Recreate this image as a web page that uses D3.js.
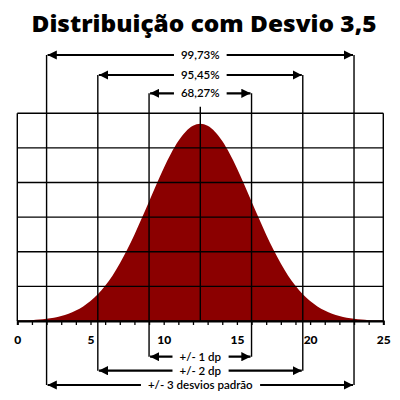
<!DOCTYPE html>
<html>
<head>
<meta charset="utf-8">
<script src="https://cdn.jsdelivr.net/npm/d3@7"></script>
<style>
  body { margin: 0; background: #fff; }
  svg { display: block; font-family: "Lato", "Open Sans", sans-serif; }
</style>
</head>
<body>
<svg width="400" height="400"></svg>
<script>
// x positions along the curve (read every half unit)
var curveX = [0, 0.5, 1, 1.5, 2, 2.5, 3, 3.5, 4, 4.5, 5, 5.5, 6, 6.5, 7, 7.5, 8, 8.5, 9, 9.5,
  10, 10.5, 11, 11.5, 12, 12.5, 13, 13.5, 14, 14.5, 15, 15.5, 16, 16.5, 17, 17.5, 18, 18.5,
  19, 19.5, 20, 20.5, 21, 21.5, 22, 22.5, 23, 23.5, 24, 24.5, 25];
// density height
var curveY = [0.0002, 0.0003, 0.0005, 0.0008, 0.0013, 0.0019, 0.0029, 0.0042, 0.0060, 0.0084,
  0.0115, 0.0154, 0.0203, 0.0262, 0.0332, 0.0411, 0.0499, 0.0593, 0.0691, 0.0789, 0.0883,
  0.0968, 0.1040, 0.1094, 0.1128, 0.1140, 0.1128, 0.1094, 0.1040, 0.0968, 0.0883, 0.0789,
  0.0691, 0.0593, 0.0499, 0.0411, 0.0332, 0.0262, 0.0203, 0.0154, 0.0115, 0.0084, 0.0060,
  0.0042, 0.0029, 0.0019, 0.0013, 0.0008, 0.0005, 0.0003, 0.0002];

var meanX = [12.5];
var spanLow = [9, 5.5, 2];
var spanHigh = [16, 19.5, 23];
var spanTopLabels = ["68,27%", "95,45%", "99,73%"];
var spanBottomLabels = ["+/- 1 dp", "+/- 2 dp", "+/- 3 desvios padrão"];
var xTicks = [0, 1, 2, 3, 4, 5, 6, 7, 8, 9, 10, 11, 12, 13, 14, 15, 16, 17, 18, 19, 20, 21, 22, 23, 24, 25];
var yGrid = [0, 0.02, 0.04, 0.06, 0.08, 0.1, 0.12];

var svg = d3.select("svg");

var x = d3.scaleLinear().domain([0, 25]).range([17.3, 383.3]);
var y = d3.scaleLinear().domain([0, 0.12]).range([321, 113.3]);

var topY = [93.3, 75, 55];
var botY = [356.7, 370.7, 385];

svg.append("defs").append("marker")
    .attr("id", "arr")
    .attr("viewBox", "0 0 10 10")
    .attr("refX", 10).attr("refY", 5)
    .attr("markerWidth", 4.2).attr("markerHeight", 4.2)
    .attr("orient", "auto-start-reverse")
    .append("path")
    .attr("d", "M0,0 L10,5 L0,10 z")
    .attr("fill", "#000");

// title
svg.append("text")
    .attr("x", 204).attr("y", 31.5)
    .attr("text-anchor", "middle")
    .attr("font-family", "'Open Sans', sans-serif")
    .attr("font-size", 23.5)
    .attr("font-weight", 800)
    .attr("textLength", 345)
    .attr("lengthAdjust", "spacingAndGlyphs")
    .text("Distribuição com Desvio 3,5");

// filled curve
var area = d3.area()
    .x(function (d, i) { return x(curveX[i]); })
    .y0(y(0))
    .y1(function (d) { return y(d); })
    .curve(d3.curveMonotoneX);

svg.append("path")
    .datum(curveY)
    .attr("d", area)
    .attr("fill", "#8b0000");

// horizontal grid
svg.append("g").selectAll("line")
    .data(yGrid)
    .enter().append("line")
    .attr("x1", x(0)).attr("x2", x(25))
    .attr("y1", function (d) { return y(d); })
    .attr("y2", function (d) { return y(d); })
    .attr("stroke", "#000").attr("stroke-width", 1.4);

// frame sides
svg.append("g").selectAll("line")
    .data([0, 25])
    .enter().append("line")
    .attr("x1", function (d) { return x(d); })
    .attr("x2", function (d) { return x(d); })
    .attr("y1", y(0.12)).attr("y2", y(0))
    .attr("stroke", "#000").attr("stroke-width", 1.4);

// mean line
svg.append("line")
    .attr("x1", x(meanX[0])).attr("x2", x(meanX[0]))
    .attr("y1", 106.7).attr("y2", y(0))
    .attr("stroke", "#000").attr("stroke-width", 1.4);

// axis
var axis = d3.axisBottom(x)
    .tickValues(xTicks)
    .tickSize(4)
    .tickPadding(10)
    .tickFormat(function (d) { return d % 5 === 0 ? d : ""; });

var ax = svg.append("g")
    .attr("transform", "translate(0," + y(0) + ")")
    .call(axis);
ax.select(".domain").attr("stroke-width", 2);
ax.selectAll(".tick line").attr("stroke-width", 1.3);
ax.selectAll("text")
    .attr("font-size", 12)
    .attr("font-weight", 900)
    .attr("font-family", "Lato, sans-serif")
    .attr("fill", "#000");

// sd brackets
spanLow.forEach(function (lo, i) {
    var hi = spanHigh[i];
    var g = svg.append("g");

    [lo, hi].forEach(function (v) {
        g.append("line")
            .attr("x1", x(v)).attr("x2", x(v))
            .attr("y1", topY[i]).attr("y2", botY[i])
            .attr("stroke", "#000").attr("stroke-width", 1.4);
    });

    [[topY[i], spanTopLabels[i]], [botY[i], spanBottomLabels[i]]].forEach(function (p) {
        g.append("line")
            .attr("x1", x(lo) + 1).attr("x2", x(hi) - 1)
            .attr("y1", p[0]).attr("y2", p[0])
            .attr("stroke", "#000").attr("stroke-width", 2.2)
            .attr("marker-start", "url(#arr)")
            .attr("marker-end", "url(#arr)");
        var bg = g.append("rect").attr("fill", "#fff");
        var t = g.append("text")
            .attr("x", x(meanX[0]))
            .attr("y", p[0] + 4)
            .attr("text-anchor", "middle")
            .attr("font-size", 11.5)
            .attr("font-weight", 600)
            .text(p[1]);
        var b = t.node().getBBox();
        bg.attr("x", b.x - 7).attr("y", p[0] - 4)
            .attr("width", b.width + 14).attr("height", 8);
    });
});
</script>
</body>
</html>
